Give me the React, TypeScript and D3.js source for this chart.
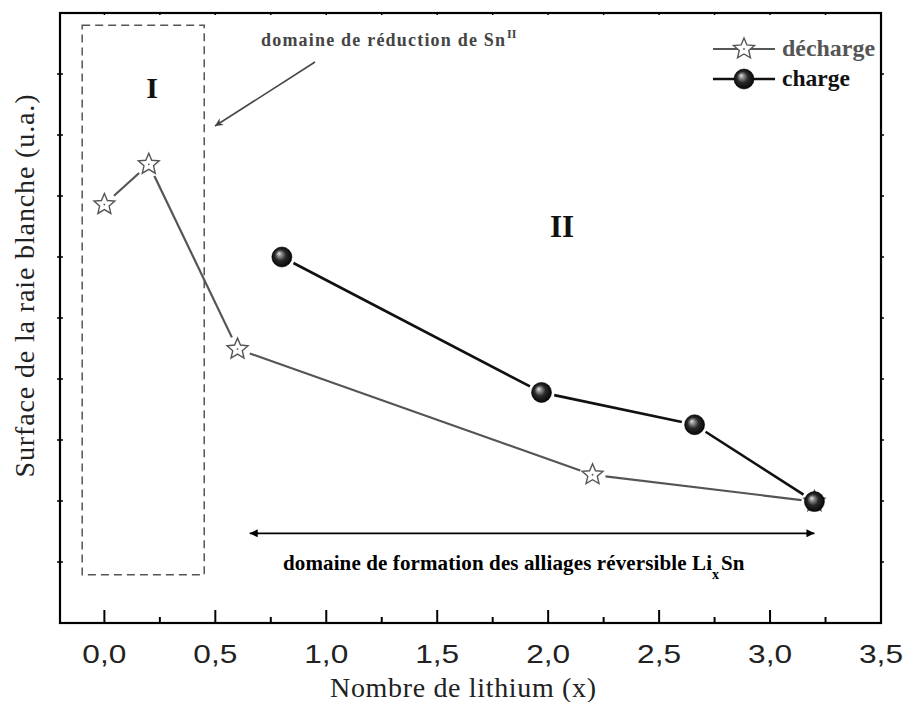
import React from "react";
import * as d3 from "d3";

// ---- data ----
const dechargeX = [0, 0.2, 0.6, 2.2, 3.2];
const dechargeY = [6.86, 7.52, 4.49, 2.43, 1.99];
const chargeX = [0.8, 1.97, 2.66, 3.2];
const chargeY = [6.0, 3.78, 3.25, 1.99];
const xTickValues = [0, 0.5, 1.0, 1.5, 2.0, 2.5, 3.0, 3.5];
const xTickLabels = ["0,0", "0,5", "1,0", "1,5", "2,0", "2,5", "3,0", "3,5"];
const xMinorTicks = [0.25, 0.75, 1.25, 1.75, 2.25, 2.75, 3.25];
const yTickValues = [1, 2, 3, 4, 5, 6, 7, 8, 9];
const legendLabels = ["décharge", "charge"];
const xTitle = "Nombre de lithium (x)";
const yTitle = "Surface de la raie blanche (u.a.)";
// annotation regions (data coords)
const regionI = { x0: -0.1, x1: 0.45, y0: 0.79, y1: 9.8 };
const rangeII = { x0: 0.655, x1: 3.2, y: 1.47 };

const W = 903, H = 702;
const L = 60, R = 881, T = 13, B = 623;
const x = d3.scaleLinear().domain([-0.2, 3.5]).range([L, R]);
const y = d3.scaleLinear().domain([0, 10]).range([B, T]);

const GRAY = "#555";
const SERIF = "Liberation Serif";
const SANS = "Liberation Sans";

function starPath(ro: number, ri: number) {
  const pts: [number, number][] = [];
  for (let i = 0; i < 10; i++) {
    const a = -Math.PI / 2 + (i * Math.PI) / 5;
    const r = i % 2 === 0 ? ro : ri;
    pts.push([r * Math.cos(a), r * Math.sin(a)]);
  }
  return "M" + pts.map((p) => p.join(",")).join("L") + "Z";
}
const STAR = starPath(11, 5);

function gappedSegments(xs: number[], ys: number[], gap: number) {
  const segs: [number, number, number, number][] = [];
  for (let i = 0; i < xs.length - 1; i++) {
    const x1 = x(xs[i]), y1 = y(ys[i]), x2 = x(xs[i + 1]), y2 = y(ys[i + 1]);
    const len = Math.hypot(x2 - x1, y2 - y1);
    const ux = (x2 - x1) / len, uy = (y2 - y1) / len;
    segs.push([x1 + ux * gap, y1 + uy * gap, x2 - ux * gap, y2 - uy * gap]);
  }
  return segs;
}

function Star({ cx, cy }: { cx: number; cy: number }) {
  return (
    <g transform={`translate(${cx},${cy})`}>
      <path d={STAR} fill="#fff" stroke={GRAY} strokeWidth={1.4} strokeLinejoin="miter" />
      <circle r={0.9} fill={GRAY} />
    </g>
  );
}
function Ball({ cx, cy }: { cx: number; cy: number }) {
  return <circle cx={cx} cy={cy} r={10} fill="url(#ballGrad)" stroke="#000" strokeWidth={0.6} />;
}

export default function App() {
  const dSegs = gappedSegments(dechargeX, dechargeY, 13);
  const cSegs = gappedSegments(chargeX, chargeY, 13);
  return (
    <svg width={W} height={H} style={{ position: "absolute", left: 0, top: 0, background: "#fff" }}>
      <defs>
        <radialGradient id="ballGrad" cx="50%" cy="50%" r="55%" fx="35%" fy="32%">
          <stop offset="0%" stopColor="#e8e8e8" />
          <stop offset="18%" stopColor="#999" />
          <stop offset="50%" stopColor="#2a2a2a" />
          <stop offset="100%" stopColor="#000" />
        </radialGradient>
        <marker id="ahB" viewBox="0 0 10 10" refX="10" refY="5" markerWidth="14" markerHeight="8" markerUnits="userSpaceOnUse" orient="auto-start-reverse">
          <path d="M0,0L10,5L0,10Z" fill="#000" />
        </marker>
        <marker id="ahG" viewBox="0 0 10 10" refX="10" refY="5" markerWidth="13" markerHeight="8" markerUnits="userSpaceOnUse" orient="auto">
          <path d="M0,0L10,5L0,10L3,5Z" fill="#444" />
        </marker>
      </defs>

      {/* frame */}
      <rect x={L} y={T} width={R - L} height={B - T} fill="none" stroke="#000" strokeWidth={2.2} />

      {/* bottom ticks */}
      {xTickValues.map((v) => (
        <line key={"xb" + v} x1={x(v)} x2={x(v)} y1={B} y2={B - 13} stroke="#000" strokeWidth={2} />
      ))}
      {xMinorTicks.map((v) => (
        <line key={"xm" + v} x1={x(v)} x2={x(v)} y1={B} y2={B - 6} stroke="#000" strokeWidth={2} />
      ))}
      {/* top ticks */}
      {[...xTickValues, ...xMinorTicks].map((v) => (
        <line key={"xt" + v} x1={x(v)} x2={x(v)} y1={T} y2={T + 2} stroke="#000" strokeWidth={1.5} />
      ))}
      {/* left/right ticks */}
      {yTickValues.map((v) => (
        <g key={"y" + v}>
          <line x1={L - 3} x2={L + 3} y1={y(v)} y2={y(v)} stroke="#000" strokeWidth={1.5} />
          <line x1={R - 1} x2={R + 3} y1={y(v)} y2={y(v)} stroke="#000" strokeWidth={1.5} />
        </g>
      ))}

      {/* tick labels */}
      {xTickValues.map((v, i) => (
        <text key={"xl" + v} x={x(v)} y={663} textAnchor="middle" fontFamily={SANS} fontSize={25}
          fill="#222" textLength={44} lengthAdjust="spacingAndGlyphs">
          {xTickLabels[i]}
        </text>
      ))}

      {/* axis titles */}
      <text x={463} y={697} textAnchor="middle" fontFamily={SERIF} fontSize={28} fill="#222"
        textLength={266} lengthAdjust="spacing">
        {xTitle}
      </text>
      <text transform={`translate(34,286) rotate(-90)`} textAnchor="middle" fontFamily={SERIF} fontSize={28}
        fill="#222" textLength={383} lengthAdjust="spacing">
        {yTitle}
      </text>

      {/* region I dashed box */}
      <rect x={x(regionI.x0)} y={y(regionI.y1)} width={x(regionI.x1) - x(regionI.x0)}
        height={y(regionI.y0) - y(regionI.y1)} fill="none" stroke={GRAY} strokeWidth={1.5} strokeDasharray="8,5" />
      <text x={152} y={98} textAnchor="middle" fontFamily={SERIF} fontWeight="bold" fontSize={30} fill="#111">I</text>
      <text x={562} y={237} textAnchor="middle" fontFamily={SERIF} fontWeight="bold" fontSize={31} fill="#111">II</text>

      {/* annotation: reduction */}
      <text x={261} y={46} fontFamily={SERIF} fontWeight="bold" fontSize={18} fill="#444"
        textLength={244} lengthAdjust="spacing">
        domaine de réduction de Sn
      </text>
      <text x={507} y={38} fontFamily={SERIF} fontWeight="bold" fontSize={12} fill="#444">II</text>
      <line x1={315} y1={62} x2={215} y2={126} stroke="#444" strokeWidth={1.5} markerEnd="url(#ahG)" />

      {/* double arrow region II */}
      <line x1={x(rangeII.x0)} x2={x(rangeII.x1)} y1={y(rangeII.y)} y2={y(rangeII.y)} stroke="#000"
        strokeWidth={1.8} markerStart="url(#ahB)" markerEnd="url(#ahB)" />
      <text x={283} y={570} fontFamily={SERIF} fontWeight="bold" fontSize={21} fill="#000"
        textLength={429} lengthAdjust="spacing">
        domaine de formation des alliages réversible Li
      </text>
      <text x={712} y={579} fontFamily={SERIF} fontWeight="bold" fontSize={14} fill="#000">x</text>
      <text x={721} y={570} fontFamily={SERIF} fontWeight="bold" fontSize={21} fill="#000">Sn</text>

      {/* decharge series */}
      {dSegs.map((s, i) => (
        <line key={"ds" + i} x1={s[0]} y1={s[1]} x2={s[2]} y2={s[3]} stroke={GRAY} strokeWidth={2.2} />
      ))}
      {/* charge series */}
      {cSegs.map((s, i) => (
        <line key={"cs" + i} x1={s[0]} y1={s[1]} x2={s[2]} y2={s[3]} stroke="#111" strokeWidth={2.6} />
      ))}
      {dechargeX.map((v, i) => (
        <Star key={"dm" + i} cx={x(v)} cy={y(dechargeY[i])} />
      ))}
      {chargeX.map((v, i) => (
        <Ball key={"cm" + i} cx={x(v)} cy={y(chargeY[i])} />
      ))}

      {/* legend */}
      <line x1={713} x2={775} y1={49} y2={49} stroke={GRAY} strokeWidth={2.2} />
      <Star cx={744} cy={49} />
      <text x={782} y={56} fontFamily={SERIF} fontWeight="bold" fontSize={23} fill={GRAY}
        textLength={93} lengthAdjust="spacingAndGlyphs">{legendLabels[0]}</text>
      <line x1={713} x2={775} y1={79} y2={79} stroke="#111" strokeWidth={2.6} />
      <Ball cx={744} cy={79} />
      <text x={782} y={86} fontFamily={SERIF} fontWeight="bold" fontSize={23} fill="#111"
        textLength={68} lengthAdjust="spacingAndGlyphs">{legendLabels[1]}</text>
    </svg>
  );
}
